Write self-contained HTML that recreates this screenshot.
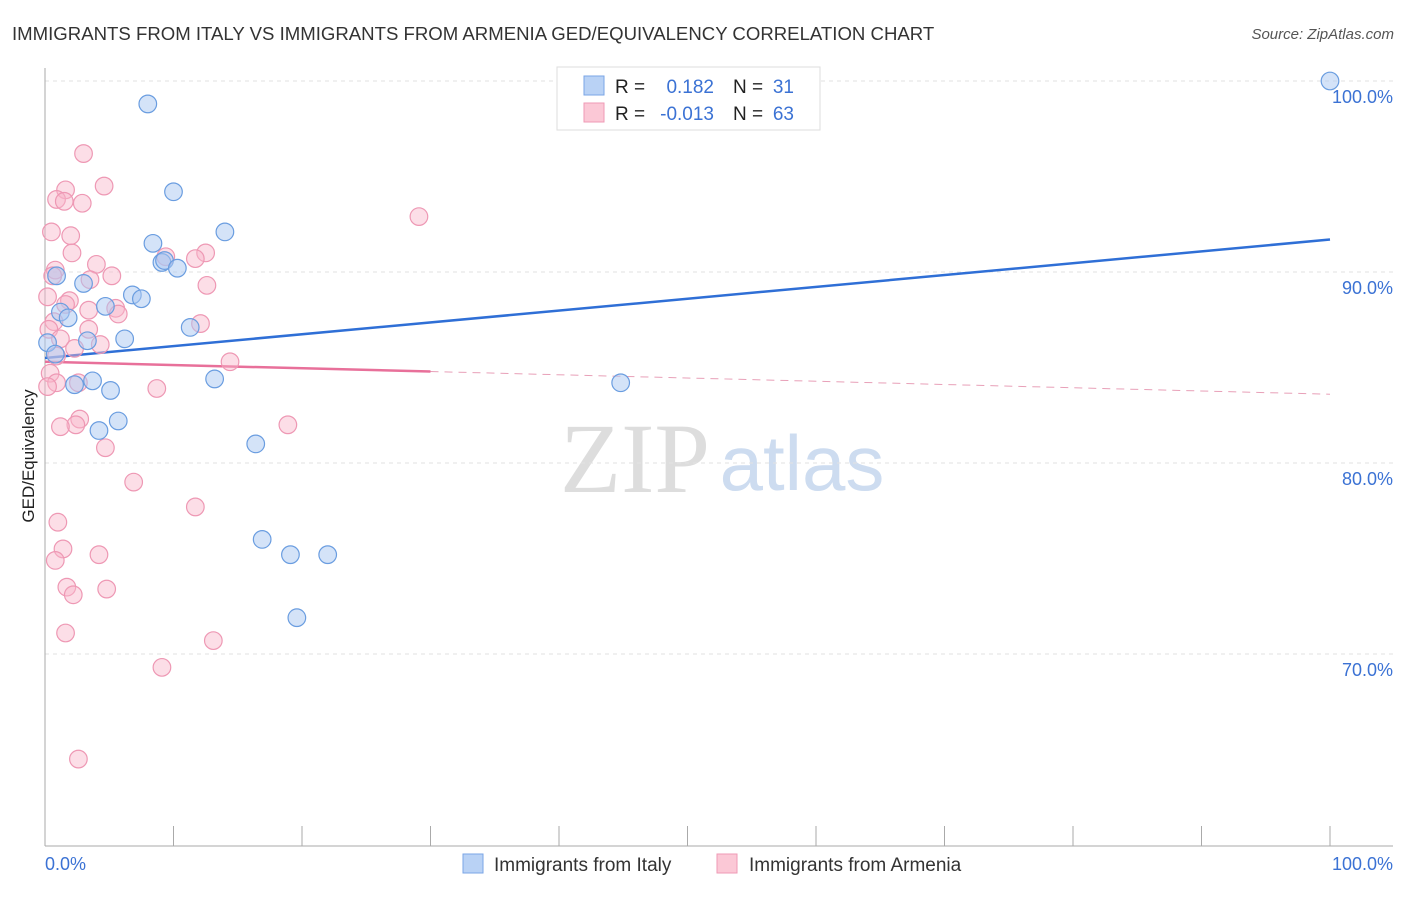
<!DOCTYPE html>
<html><head><meta charset="utf-8"><style>
body{margin:0;background:#fff;font-family:"Liberation Sans",sans-serif}
</style></head><body>
<svg id="chart" width="1406" height="892" xmlns="http://www.w3.org/2000/svg" font-family="Liberation Sans, sans-serif">
<text x="12" y="40" font-size="18.6" fill="#333">IMMIGRANTS FROM ITALY VS IMMIGRANTS FROM ARMENIA GED/EQUIVALENCY CORRELATION CHART</text>
<text x="1394" y="39" font-size="15" fill="#555" text-anchor="end" font-style="italic">Source: ZipAtlas.com</text>
<g>
<text x="635" y="492" font-size="100" fill="#ddd" text-anchor="middle" style="font-family:'Liberation Serif',serif">ZIP</text>
<text x="802" y="490" font-size="78" fill="#cddcf0" text-anchor="middle">atlas</text>
</g>
<g id="grid"></g>
<g id="axes"></g>
<g id="lines"></g>
<g id="points"></g>
<text transform="translate(34,456) rotate(-90)" font-size="17" fill="#222" text-anchor="middle">GED/Equivalency</text>
<text x="45" y="870" font-size="18" fill="#3b72d4">0.0%</text>
<text x="1393" y="870" font-size="18" fill="#3b72d4" text-anchor="end">100.0%</text>
<g>
<rect x="557" y="67" width="263" height="63" fill="#fff" stroke="#ddd"/>
<rect x="584" y="76" width="20" height="19" fill="#b9d2f5" stroke="#7aa5e6"/>
<rect x="584" y="103" width="20" height="19" fill="#fbc8d6" stroke="#ef9ab5"/>
<text x="615" y="93" font-size="19" fill="#222">R =</text>
<text x="714" y="93" font-size="19" fill="#3b72d4" text-anchor="end">0.182</text>
<text x="733" y="93" font-size="19" fill="#222">N =</text>
<text x="794" y="93" font-size="19" fill="#3b72d4" text-anchor="end">31</text>
<text x="615" y="120" font-size="19" fill="#222">R =</text>
<text x="714" y="120" font-size="19" fill="#3b72d4" text-anchor="end">-0.013</text>
<text x="733" y="120" font-size="19" fill="#222">N =</text>
<text x="794" y="120" font-size="19" fill="#3b72d4" text-anchor="end">63</text>
</g>
<g>
<rect x="463" y="854" width="20" height="19" fill="#b9d2f5" stroke="#7aa5e6"/>
<text x="494" y="871" font-size="19" fill="#333">Immigrants from Italy</text>
<rect x="717" y="854" width="20" height="19" fill="#fbc8d6" stroke="#ef9ab5"/>
<text x="749" y="871" font-size="19" fill="#333">Immigrants from Armenia</text>
</g>
</svg>
<script>
const yTicks=[70,80,90,100];
const yTickLabels=["70.0%","80.0%","90.0%","100.0%"];
const italyX=[8.0,10.0,14.0,8.4,9.1,9.3,10.3,3.0,0.9,6.8,7.5,4.7,1.2,1.8,11.3,3.3,6.2,0.2,0.8,3.7,2.3,5.1,13.2,4.2,5.7,16.4,16.9,19.1,22.0,19.6,44.8,100.0];
const italyY=[98.8,94.2,92.1,91.5,90.5,90.6,90.2,89.4,89.8,88.8,88.6,88.2,87.9,87.6,87.1,86.4,86.5,86.3,85.7,84.3,84.1,83.8,84.4,81.7,82.2,81.0,76.0,75.2,75.2,71.9,84.2,100.0];
const armX=[3.0,4.6,1.6,0.9,1.5,2.9,29.1,0.5,2.0,2.1,4.0,0.8,0.6,5.2,3.5,12.5,9.4,11.7,12.6,0.2,1.9,1.6,3.4,5.5,5.7,12.1,0.7,0.3,3.4,1.2,4.3,2.3,0.9,14.4,0.4,2.6,0.9,8.7,0.2,2.7,2.4,1.2,18.9,4.7,6.9,11.7,1.0,1.4,0.8,4.2,1.7,2.2,4.8,1.6,13.1,9.1,2.6];
const armY=[96.2,94.5,94.3,93.8,93.7,93.6,92.9,92.1,91.9,91.0,90.4,90.1,89.8,89.8,89.6,91.0,90.8,90.7,89.3,88.7,88.5,88.3,88.0,88.1,87.8,87.3,87.4,87.0,87.0,86.5,86.2,86.0,85.6,85.3,84.7,84.2,84.2,83.9,84.0,82.3,82.0,81.9,82.0,80.8,79.0,77.7,76.9,75.5,74.9,75.2,73.5,73.1,73.4,71.1,70.7,69.3,64.5];
const italyTrend=[85.5,91.7];
const armTrend=[85.3,83.6];
const armSolidEnd=30;
const NS="http://www.w3.org/2000/svg";
const X=v=>45+v*12.85, Y=v=>81+(100-v)*19.1;
function mk(t,a,p){const e=document.createElementNS(NS,t);for(const k in a)e.setAttribute(k,a[k]);p.appendChild(e);return e;}
const grid=document.getElementById('grid'),axes=document.getElementById('axes'),lines=document.getElementById('lines'),pts=document.getElementById('points');
yTicks.forEach((t,i)=>{
 const g=mk('line',{x1:45,x2:1393,y1:Y(t),y2:Y(t),stroke:'#e2e2e2','stroke-dasharray':'4,4'},grid);
 
 
 const tx=mk('text',{x:1393,y:Y(t)+22,'font-size':18,fill:'#3b72d4','text-anchor':'end'},axes);
 tx.textContent=yTickLabels[i];
 
 
});
const ya=mk('line',{x1:45,x2:45,y1:68,y2:846,stroke:'#aaa'},axes);


const xa=mk('line',{x1:45,x2:1393,y1:846,y2:846,stroke:'#aaa'},axes);


for(let i=0;i<=10;i++){const tk=mk('line',{x1:X(i*10),x2:X(i*10),y1:826,y2:846,stroke:'#aaa'},axes);
 
 }
const bl=mk('line',{x1:X(0),y1:Y(italyTrend[0]),x2:X(100),y2:Y(italyTrend[1]),stroke:'#2f6fd6','stroke-width':2.5},lines);


const am=v=>armTrend[0]+(armTrend[1]-armTrend[0])*v/100;
const pl=mk('line',{x1:X(0),y1:Y(am(0)),x2:X(armSolidEnd),y2:Y(am(armSolidEnd)),stroke:'#e8709a','stroke-width':2.5},lines);


const pd=mk('line',{x1:X(armSolidEnd),y1:Y(am(armSolidEnd)),x2:X(100),y2:Y(am(100)),stroke:'#e8a0b8','stroke-width':1,'stroke-dasharray':'8,6'},lines);


armX.forEach((x,i)=>{const c=mk('circle',{cx:X(x),cy:Y(armY[i]),r:8.8,fill:'rgba(248,182,202,0.45)',stroke:'#ee98b4','stroke-width':1.2},pts);
 
 });
italyX.forEach((x,i)=>{const c=mk('circle',{cx:X(x),cy:Y(italyY[i]),r:8.8,fill:'rgba(170,200,242,0.5)',stroke:'#6a9de0','stroke-width':1.2},pts);
 
 });
</script>
</body></html>
